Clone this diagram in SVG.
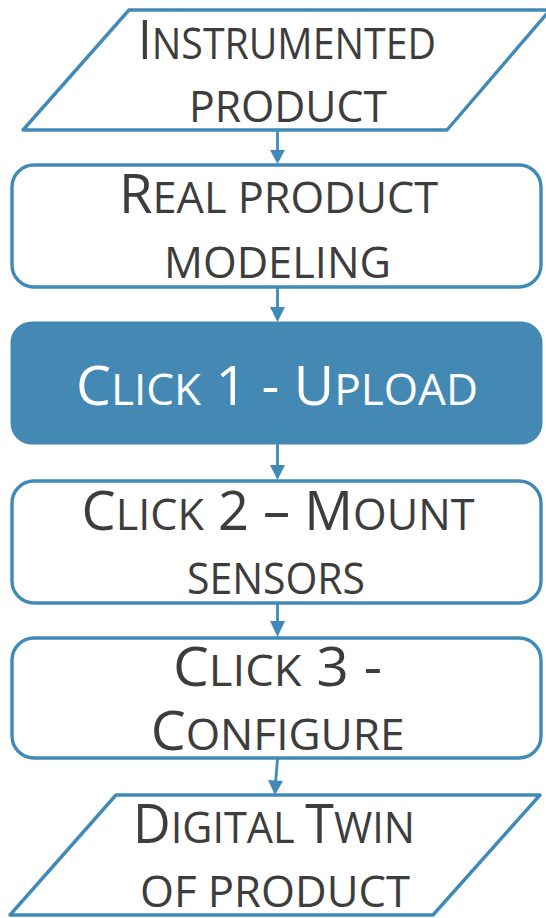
<svg xmlns="http://www.w3.org/2000/svg" width="546" height="918" viewBox="0 0 546 918">
  <style>
    .frame { fill: #ffffff; stroke: #408ab8; stroke-width: 3.4; stroke-linejoin: round; }
    .solid { fill: #4389b4; stroke: #4389b4; stroke-width: 3; }
    .label { font-family: "Open Sans", "Liberation Sans", sans-serif; font-weight: 400; fill: #3d3d3d; text-anchor: middle; }
    .light { fill: #ffffff; }
    .big { font-size: 54px; }
    .sm { font-size: 43px; }
    .wire { stroke: #408ab8; stroke-width: 2.8; fill: none; }
    .head { fill: #408ab8; }
  </style>
  <rect width="546" height="918" fill="#ffffff"/>

  <!-- flow connectors -->
  <g id="connectors">
    <line class="wire" x1="277.5" y1="131" x2="277.5" y2="152"/>
    <polygon class="head" points="270,150 285,150 277.5,164"/>
    <line class="wire" x1="277.5" y1="288" x2="277.5" y2="309"/>
    <polygon class="head" points="270,307 285,307 277.5,322"/>
    <line class="wire" x1="277.5" y1="444" x2="277.5" y2="467"/>
    <polygon class="head" points="270,465 285,465 277.5,480"/>
    <line class="wire" x1="277.5" y1="759" x2="275.5" y2="783"/>
    <line class="wire" x1="277.5" y1="604" x2="277.5" y2="623"/>
    <polygon class="head" points="270,621 285,621 277.5,637"/>
    <polygon class="head" points="268,780 283,781 275,795"/>
  </g>

  <g id="instrumented-product">
    <polygon class="frame" points="129,10 550,10 447,130 23,130"/>
    <text class="label" x="287" y="59" textLength="298" lengthAdjust="spacingAndGlyphs"><tspan class="big">I</tspan><tspan class="sm">NSTRUMENTED</tspan></text>
    <text class="label sm" x="288" y="122" textLength="198" lengthAdjust="spacingAndGlyphs">PRODUCT</text>
  </g>

  <g id="real-product-modeling">
    <rect class="frame" x="12" y="165" width="529" height="122" rx="22"/>
    <text class="label" x="278.5" y="213" textLength="319" lengthAdjust="spacingAndGlyphs"><tspan class="big">R</tspan><tspan class="sm">EAL PRODUCT</tspan></text>
    <text class="label sm" x="277.5" y="278" textLength="227" lengthAdjust="spacingAndGlyphs">MODELING</text>
  </g>

  <g id="click-1-upload">
    <rect class="solid" x="12" y="323" width="529" height="120" rx="20"/>
    <text class="label light" x="277" y="405" textLength="402" lengthAdjust="spacingAndGlyphs"><tspan class="big">C</tspan><tspan class="sm">LICK</tspan><tspan class="big"> 1 - U</tspan><tspan class="sm">PLOAD</tspan></text>
  </g>

  <g id="click-2-mount-sensors">
    <rect class="frame" x="12" y="481" width="529" height="122" rx="22"/>
    <text class="label" x="278" y="530" textLength="393" lengthAdjust="spacingAndGlyphs"><tspan class="big">C</tspan><tspan class="sm">LICK</tspan><tspan class="big"> 2 – M</tspan><tspan class="sm">OUNT</tspan></text>
    <text class="label sm" x="276" y="594" textLength="178" lengthAdjust="spacingAndGlyphs">SENSORS</text>
  </g>

  <g id="click-3-configure">
    <rect class="frame" x="12" y="638" width="529" height="120" rx="22"/>
    <text class="label" x="277.5" y="686" textLength="209" lengthAdjust="spacingAndGlyphs"><tspan class="big">C</tspan><tspan class="sm">LICK</tspan><tspan class="big"> 3 -</tspan></text>
    <text class="label" x="277.7" y="750" textLength="254" lengthAdjust="spacingAndGlyphs"><tspan class="big">C</tspan><tspan class="sm">ONFIGURE</tspan></text>
  </g>

  <g id="digital-twin-of-product">
    <polygon class="frame" points="116,795 540,795 433,915 10,915"/>
    <text class="label" x="274" y="843" textLength="282" lengthAdjust="spacingAndGlyphs"><tspan class="big">D</tspan><tspan class="sm">IGITAL </tspan><tspan class="big">T</tspan><tspan class="sm">WIN</tspan></text>
    <text class="label sm" x="275" y="907" textLength="270" lengthAdjust="spacingAndGlyphs">OF PRODUCT</text>
  </g>
</svg>
